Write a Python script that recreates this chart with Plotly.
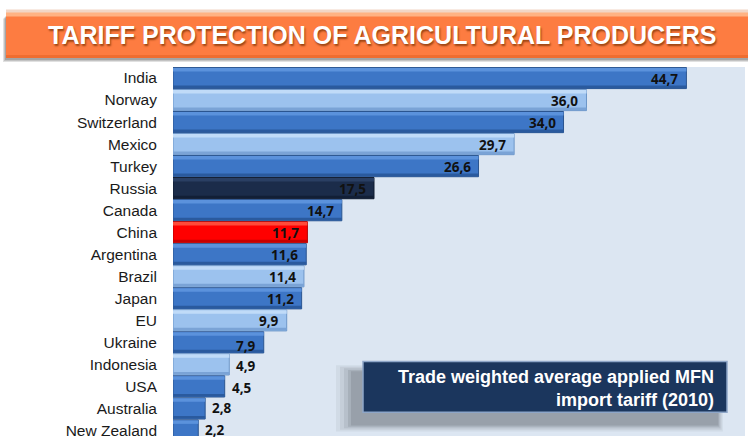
import plotly.graph_objects as go

# Tariff data (trade weighted average applied MFN import tariff, 2010, %)
countries = ["India", "Norway", "Switzerland", "Mexico", "Turkey", "Russia", "Canada",
             "China", "Argentina", "Brazil", "Japan", "EU", "Ukraine", "Indonesia",
             "USA", "Australia", "New Zealand"]
tariffs = [44.7, 36.0, 34.0, 29.7, 26.6, 17.5, 14.7, 11.7, 11.6, 11.4, 11.2, 9.9,
           7.9, 4.9, 4.5, 2.8, 2.2]
# bar style per country: d = mid blue, l = light blue, n = navy, r = red
styles = ["d", "l", "d", "l", "d", "n", "d", "r", "d", "l", "d", "l", "d", "l",
          "d", "d", "d"]

BODY = {"d": "#3d76c6", "l": "#9cc2ee", "n": "#1b2c4a", "r": "#ff0000"}
TOP = {"d": "#5b92dc", "l": "#c0dbf8", "n": "#2a3f63", "r": "#ff4a3a"}
BOTTOM = {"d": "#2a5a9e", "l": "#7aa3d6", "n": "#121f36", "r": "#c80000"}
EDGE = {"d": "#2b5590", "l": "#6d96c8", "n": "#0f1a2e", "r": "#b00000"}

# plot area in pixels: x 173..745, y 67..439
PX0, PX1, PY0, PY1 = 173, 745, 67, 439
def px(x):
    return (x - PX0) / (PX1 - PX0)
def py(y):
    return (PY1 - y) / (PY1 - PY0)

fig = go.Figure()

# main bar bodies
fig.add_trace(go.Bar(
    x=tariffs, y=countries, orientation="h",
    width=0.96, offset=-0.48,
    marker=dict(color=[BODY[s] for s in styles],
                line=dict(color=[EDGE[s] for s in styles], width=1)),
    hoverinfo="skip", showlegend=False,
))
# lighter top sheen
fig.add_trace(go.Bar(
    x=tariffs, y=countries, orientation="h",
    width=0.16, offset=-0.46,
    marker=dict(color=[TOP[s] for s in styles], line=dict(width=0)),
    hoverinfo="skip", showlegend=False,
))
# darker bottom edge
fig.add_trace(go.Bar(
    x=tariffs, y=countries, orientation="h",
    width=0.12, offset=0.34,
    marker=dict(color=[BOTTOM[s] for s in styles], line=dict(width=0)),
    hoverinfo="skip", showlegend=False,
))

# value labels: inside the bar end for long bars, beside it for short ones
annotations = []
for c, v in zip(countries, tariffs):
    label = f"{v:.1f}".replace(".", ",")
    inside = v >= 7
    if c == "Ukraine":
        ys = -4
    elif c in ("Indonesia", "USA"):
        ys = -2
    elif inside:
        ys = -1
    else:
        ys = 0
    annotations.append(dict(
        x=v, y=c, xref="x", yref="y", text=label, showarrow=False,
        xanchor="right" if inside else "left",
        xshift=-6 if inside else 5,
        yshift=ys,
        font=dict(family="Open Sans", size=13.5, color="#111111",
                  weight=700),
    ))

# banner title
annotations.append(dict(
    x=px(382), y=py(35), xref="paper", yref="paper",
    text="<b>TARIFF PROTECTION OF AGRICULTURAL PRODUCERS</b>", showarrow=False,
    xanchor="center", yanchor="middle",
    font=dict(family="Liberation Sans, Arial, sans-serif", size=25,
              color="white", shadow="1px 2px 2px #9a4312"),
))

# note box text
annotations.append(dict(
    x=px(716), y=py(391), xref="paper", yref="paper",
    text="<b>Trade weighted average applied MFN<br>import tariff (2010)</b>",
    showarrow=False, xanchor="right", yanchor="middle", align="right",
    font=dict(family="Liberation Sans, Arial, sans-serif", size=18,
              color="white"),
))

shapes = []
# banner drop shadow
for dx, dy, op in [(3, 4, 0.18), (2, 3, 0.22), (1, 2, 0.28)]:
    shapes.append(dict(type="rect", xref="paper", yref="paper",
                       x0=px(6 - dx), x1=px(760), y0=py(58 + dy), y1=py(14 + dy),
                       fillcolor="#555555", opacity=op, line=dict(width=0),
                       layer="above"))
# banner body with a lighter top band
shapes.append(dict(type="rect", xref="paper", yref="paper",
                   x0=px(6), x1=px(760), y0=py(58), y1=py(10),
                   fillcolor="#fd7c41", line=dict(width=0), layer="above"))
shapes.append(dict(type="rect", xref="paper", yref="paper",
                   x0=px(6), x1=px(760), y0=py(16), y1=py(10),
                   fillcolor="#ffb283", line=dict(width=0), layer="above"))
shapes.append(dict(type="rect", xref="paper", yref="paper",
                   x0=px(6), x1=px(760), y0=py(12), y1=py(9),
                   fillcolor="#f2d6c6", line=dict(width=0), layer="above"))
shapes.append(dict(type="rect", xref="paper", yref="paper",
                   x0=px(6), x1=px(760), y0=py(58), y1=py(55),
                   fillcolor="#ef6d30", line=dict(width=0), layer="above"))

# note box shadow (soft, offset down-left)
for grow, op in [(16, 0.07), (12, 0.09), (8, 0.11), (4, 0.14), (1, 0.16)]:
    shapes.append(dict(type="rect", xref="paper", yref="paper",
                       x0=px(352 - grow), x1=px(718 + grow * 0.3),
                       y0=py(428 + grow * 0.4), y1=py(374 - grow * 0.4),
                       fillcolor="#4a4f58", opacity=op, line=dict(width=0),
                       layer="above"))
# note box
shapes.append(dict(type="rect", xref="paper", yref="paper",
                   x0=px(363), x1=px(727), y0=py(415), y1=py(364),
                   fillcolor="#1b365d", line=dict(color="#8ea6c8", width=1.5),
                   layer="above"))

fig.update_layout(
    width=748, height=439,
    margin=dict(l=PX0, r=748 - PX1, t=PY0, b=0),
    paper_bgcolor="white", plot_bgcolor="#dce6f2",
    barmode="overlay",
    xaxis=dict(range=[0, 49.8], visible=False, showgrid=False, zeroline=False,
               fixedrange=True),
    yaxis=dict(type="category", range=[16.25, -0.5], showgrid=False,
               zeroline=False, ticks="", ticklabelstandoff=15,
               tickfont=dict(family="Liberation Sans, Arial, sans-serif",
                             size=15.5, color="#1a1a1a"),
               fixedrange=True),
    annotations=annotations,
    shapes=shapes,
    showlegend=False,
)

fig.write_html("out.html")
